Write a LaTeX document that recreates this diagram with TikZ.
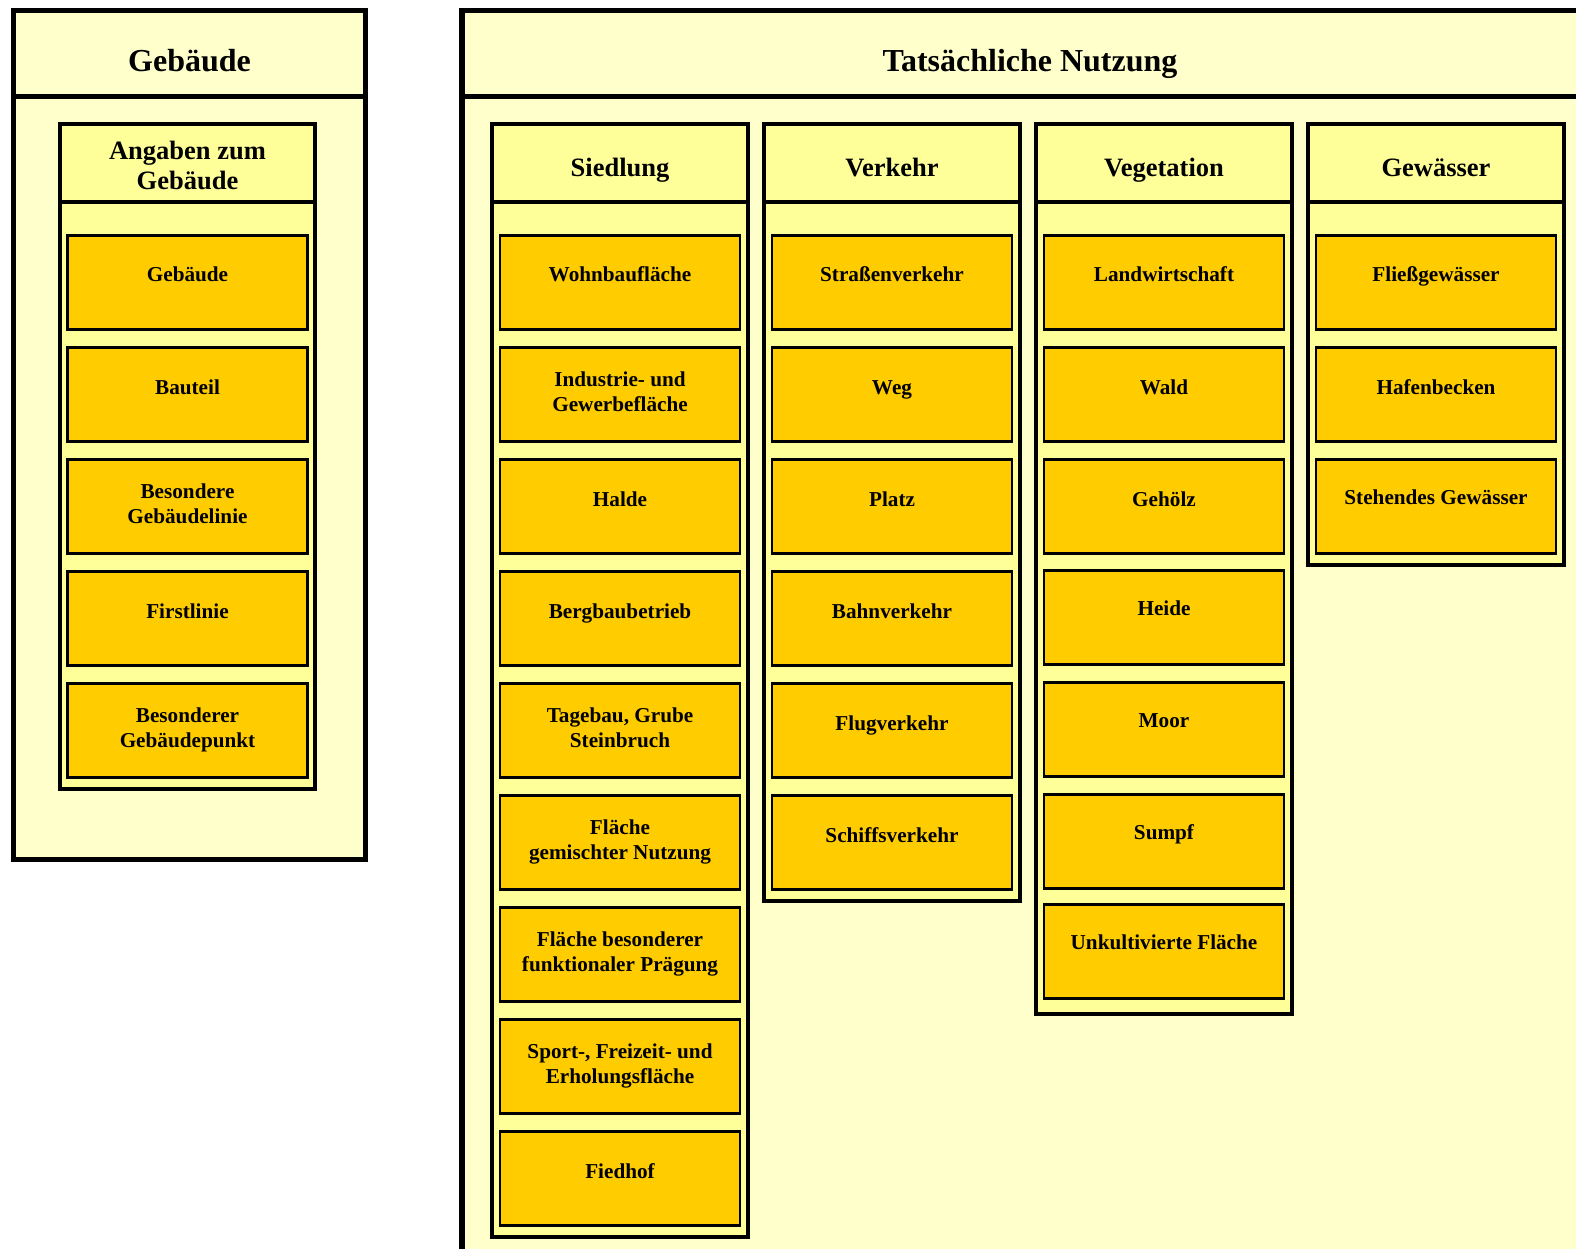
\documentclass[tikz,border=0pt]{standalone}
\usepackage{fontspec}
\setmainfont{Liberation Serif}
\usetikzlibrary{calc}
\definecolor{outerfill}{HTML}{FFFFCC}
\definecolor{colfill}{HTML}{FFFF99}
\definecolor{itemfill}{HTML}{FFCC00}
\newcommand\twol[3]{\vtop{\baselineskip=#1\hbox to 0pt{\hss#2\hss}\hbox to 0pt{\hss#3\hss}}}
\newcommand\mkitem[5]{%
  \node[itembox] (#1) at ({#2+8},{235.5+112*#3}) {};
  \node[itemtext] (#1t) at ($(#1.north)+(0,#4)$) {#5};
}
\tikzset{
  outerbox/.style={draw, line width=5.5pt, fill=outerfill, inner sep=0pt, outer sep=0pt, anchor=north west},
  outerline/.style={line width=5.5pt},
  colbox/.style={draw, line width=4pt, fill=colfill, inner sep=0pt, outer sep=0pt, anchor=north west, minimum width=256pt},
  colline/.style={line width=4pt},
  itembox/.style={draw, line width=2.6pt, fill=itemfill, inner sep=0pt, outer sep=0pt, minimum width=240pt, minimum height=94pt, anchor=north west},
  titletext/.style={font=\bfseries\fontsize{32}{38}\selectfont, inner sep=0pt, anchor=base},
  coltext/.style={font=\bfseries\fontsize{26.5}{30}\selectfont, inner sep=0pt, anchor=base},
  itemtext/.style={font=\bfseries\fontsize{21.2}{25}\selectfont, inner sep=0pt, anchor=base},
}
\begin{document}
\begin{tikzpicture}[x=1pt,y=-1pt]
\useasboundingbox (0,0) rectangle (1576,1249);
\fill[white] (0,0) rectangle (1576,1249);

% ---------- Gebäude ----------
\node[outerbox, minimum width=352pt, minimum height=849pt] (geb) at (13.5,10.5) {};
\draw[outerline] ($(geb.north west)+(0,86)$) -- ($(geb.north east)+(0,86)$);
\node[titletext] (gebT) at (189.5,71.5) {Gebäude};

\node[colbox, minimum width=255pt, minimum height=664.5pt] (colA) at (60,124) {};
\draw[colline] ($(colA.north west)+(0,78)$) -- ($(colA.north east)+(0,78)$);
\node[coltext] (colAt) at ($(colA.north)+(0,36)$) {\twol{30pt}{Angaben zum}{Gebäude}};
\mkitem{a0}{59.5}{0}{46.5}{Gebäude}
\mkitem{a1}{59.5}{1}{46.5}{Bauteil}
\mkitem{a2}{59.5}{2}{38.5}{\twol{25pt}{Besondere}{Gebäudelinie}}
\mkitem{a3}{59.5}{3}{46.5}{Firstlinie}
\mkitem{a4}{59.5}{4}{38.5}{\twol{25pt}{Besonderer}{Gebäudepunkt}}

% ---------- Tatsächliche Nutzung ----------
\node[outerbox, minimum width=1138pt, minimum height=1260pt] (tn) at (462,10.5) {};
\draw[outerline] ($(tn.north west)+(0,86)$) -- ($(tn.north east)+(0,86)$);
\node[titletext] (tnT) at (1030,71.5) {Tatsächliche Nutzung};

% Siedlung
\node[colbox, minimum height=1112.5pt] (colS) at (492,124) {};
\draw[colline] ($(colS.north west)+(0,78)$) -- ($(colS.north east)+(0,78)$);
\node[coltext] (colSt) at ($(colS.north)+(0,53)$) {Siedlung};
\mkitem{s0}{492}{0}{46.5}{Wohnbaufläche}
\mkitem{s1}{492}{1}{38.5}{\twol{25pt}{Industrie- und}{Gewerbefläche}}
\mkitem{s2}{492}{2}{46.5}{Halde}
\mkitem{s3}{492}{3}{46.5}{Bergbaubetrieb}
\mkitem{s4}{492}{4}{38.5}{\twol{25pt}{Tagebau, Grube}{Steinbruch}}
\mkitem{s5}{492}{5}{38.5}{\twol{25pt}{Fläche}{gemischter Nutzung}}
\mkitem{s6}{492}{6}{38.5}{\twol{25pt}{Fläche besonderer}{funktionaler Prägung}}
\mkitem{s7}{492}{7}{38.5}{\twol{25pt}{Sport-, Freizeit- und}{Erholungsfläche}}
\mkitem{s8}{492}{8}{46.5}{Fiedhof}

% Verkehr
\node[colbox, minimum height=776.5pt] (colV) at (764,124) {};
\draw[colline] ($(colV.north west)+(0,78)$) -- ($(colV.north east)+(0,78)$);
\node[coltext] (colVt) at ($(colV.north)+(0,53)$) {Verkehr};
\mkitem{v0}{764}{0}{46.5}{Straßenverkehr}
\mkitem{v1}{764}{1}{46.5}{Weg}
\mkitem{v2}{764}{2}{46.5}{Platz}
\mkitem{v3}{764}{3}{46.5}{Bahnverkehr}
\mkitem{v4}{764}{4}{46.5}{Flugverkehr}
\mkitem{v5}{764}{5}{46.5}{Schiffsverkehr}

% Vegetation
\node[colbox, minimum height=890pt] (colG) at (1036,124) {};
\draw[colline] ($(colG.north west)+(0,78)$) -- ($(colG.north east)+(0,78)$);
\node[coltext] (colGt) at ($(colG.north)+(0,53)$) {Vegetation};
\mkitem{g0}{1036}{0}{46.5}{Landwirtschaft}
\mkitem{g1}{1036}{1}{46.5}{Wald}
\mkitem{g2}{1036}{2}{46.5}{Gehölz}
\mkitem{g3}{1036}{2.99}{45.5}{Heide}
\mkitem{g4}{1036}{3.99}{45.5}{Moor}
\mkitem{g5}{1036}{4.99}{45.5}{Sumpf}
\mkitem{g6}{1036}{5.973}{45.5}{Unkultivierte Fläche}

% Gewässer
\node[colbox, minimum height=440.5pt] (colW) at (1308,124) {};
\draw[colline] ($(colW.north west)+(0,78)$) -- ($(colW.north east)+(0,78)$);
\node[coltext] (colWt) at ($(colW.north)+(0,53)$) {Gewässer};
\mkitem{w0}{1308}{0}{46.5}{Fließgewässer}
\mkitem{w1}{1308}{1}{46.5}{Hafenbecken}
\mkitem{w2}{1308}{2}{45}{Stehendes Gewässer}
\end{tikzpicture}
\end{document}
